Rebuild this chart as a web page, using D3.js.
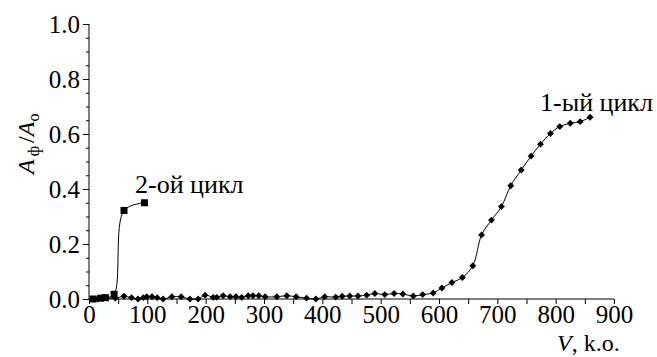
<!DOCTYPE html>
<html>
<head>
<meta charset="utf-8">
<script src="https://cdn.jsdelivr.net/npm/d3@7"></script>
<style>
  body { margin: 0; background: #fff; }
</style>
</head>
<body>
<svg id="chart" width="657" height="357" font-family="Liberation Serif"></svg>
<script>
// 1-ый цикл (diamonds)
const cycle1V = [15, 30, 45, 60, 73, 84, 93, 99, 108, 117, 127, 142, 158, 173, 187, 199, 213, 219, 230, 242, 252, 262, 273, 281, 291, 302, 322, 339, 355, 373, 389, 404, 423, 434, 447, 461, 476, 490, 507, 523, 538, 556, 572, 590, 605, 622, 640, 658, 673, 690, 707, 723, 741, 758, 774, 791, 807, 825, 842, 859];
const cycle1A = [0, 0.003, 0.003, 0.01, 0.005, 0, 0.005, 0.008, 0.008, 0.005, 0, 0.008, 0.008, 0, 0, 0.014, 0.006, 0.006, 0.012, 0.008, 0.008, 0.006, 0.012, 0.012, 0.012, 0.008, 0.008, 0.012, 0.008, 0.003, 0, 0.008, 0.007, 0.01, 0.011, 0.011, 0.014, 0.02, 0.016, 0.02, 0.018, 0.011, 0.016, 0.022, 0.04, 0.06, 0.078, 0.121, 0.233, 0.287, 0.336, 0.412, 0.469, 0.52, 0.563, 0.602, 0.627, 0.639, 0.645, 0.661];
// 2-ой цикл (squares)
const cycle2V = [7, 20, 28, 43, 60, 95];
const cycle2A = [0, 0.003, 0.005, 0.017, 0.322, 0.35];

const xTicks = [0, 100, 200, 300, 400, 500, 600, 700, 800, 900];
const yTicks = [0, 0.2, 0.4, 0.6, 0.8, 1.0];

const FONT = "Liberation Serif";
const svg = d3.select("#chart");
const x = d3.scaleLinear().domain([0, 900]).range([89, 614]);
const y = d3.scaleLinear().domain([0, 1]).range([299, 24]);

// x axis: minor ticks every 50, labels every 100
svg.append("g")
  .attr("transform", "translate(0,299)")
  .call(d3.axisBottom(x).tickValues(d3.range(0, 901, 50)).tickSize(5).tickFormat(""))
  .call(g => g.select(".domain").remove());
svg.append("g")
  .attr("transform", "translate(0,299)")
  .call(d3.axisBottom(x).tickValues(xTicks).tickSize(0).tickPadding(6).tickFormat(d3.format("d")))
  .call(g => g.select(".domain").remove());

// y axis: minor ticks every 0.05, labels every 0.2
svg.append("g")
  .attr("transform", "translate(89,0)")
  .call(d3.axisLeft(y).tickValues(d3.range(0, 1.001, 0.05)).tickSize(3).tickFormat(""))
  .call(g => g.select(".domain").remove());
svg.append("g")
  .attr("transform", "translate(89,0)")
  .call(d3.axisLeft(y).tickValues(yTicks).tickSize(6).tickPadding(3).tickFormat(d3.format(".1f")))
  .call(g => g.select(".domain").remove());

svg.selectAll("g").attr("font-family", FONT).attr("font-size", 25);
svg.selectAll(".tick text").attr("fill", "#000");
svg.selectAll(".tick line").attr("stroke", "#000");

// axis lines
svg.append("line").attr("x1", 89).attr("x2", 614).attr("y1", 299).attr("y2", 299).attr("stroke", "#000");
svg.append("line").attr("x1", 89).attr("x2", 89).attr("y1", 24).attr("y2", 299).attr("stroke", "#000");

const line = d3.line().curve(d3.curveCatmullRom.alpha(0.5)).x(d => x(d[0])).y(d => y(d[1]));

const data1 = cycle1V.map((v, i) => [v, cycle1A[i]]);
const data2 = cycle2V.map((v, i) => [v, cycle2A[i]]);

svg.append("path").datum(data1).attr("d", line).attr("fill", "none").attr("stroke", "#000").attr("stroke-width", 1);
svg.append("path").datum(data2).attr("d", line).attr("fill", "none").attr("stroke", "#000").attr("stroke-width", 1);

svg.selectAll(".dia").data(data1).enter().append("path")
  .attr("class", "dia")
  .attr("transform", d => "translate(" + x(d[0]) + "," + y(d[1]) + ")")
  .attr("d", d3.symbol(d3.symbolDiamond2, 30))
  .attr("fill", "#000");

svg.selectAll(".sq").data(data2).enter().append("rect")
  .attr("class", "sq")
  .attr("x", d => x(d[0]) - 3.5).attr("y", d => y(d[1]) - 3.5)
  .attr("width", 7).attr("height", 7)
  .attr("fill", "#000");

// labels
svg.append("text").attr("x", 135).attr("y", 193).attr("font-family", FONT).attr("font-size", 26).text("2-ой цикл");
svg.append("text").attr("x", 540).attr("y", 111).attr("font-family", FONT).attr("font-size", 26).text("1-ый цикл");

const xl = svg.append("text").attr("x", 557).attr("y", 351).attr("font-family", FONT).attr("font-size", 24);
xl.append("tspan").attr("font-style", "italic").text("V");
xl.append("tspan").text(", k.o.");

const yl = svg.append("text").attr("transform", "translate(34,174) rotate(-90)").attr("font-family", FONT).attr("font-size", 24);
yl.append("tspan").attr("font-style", "italic").text("A");
yl.append("tspan").attr("font-size", 16).attr("dy", 5).attr("dx", 3).text("ф");
yl.append("tspan").attr("dy", -5).attr("dx", 3).text("/");
yl.append("tspan").attr("font-style", "italic").text("A");
yl.append("tspan").attr("font-size", 16).attr("dy", 5).text("о");
</script>
</body>
</html>
